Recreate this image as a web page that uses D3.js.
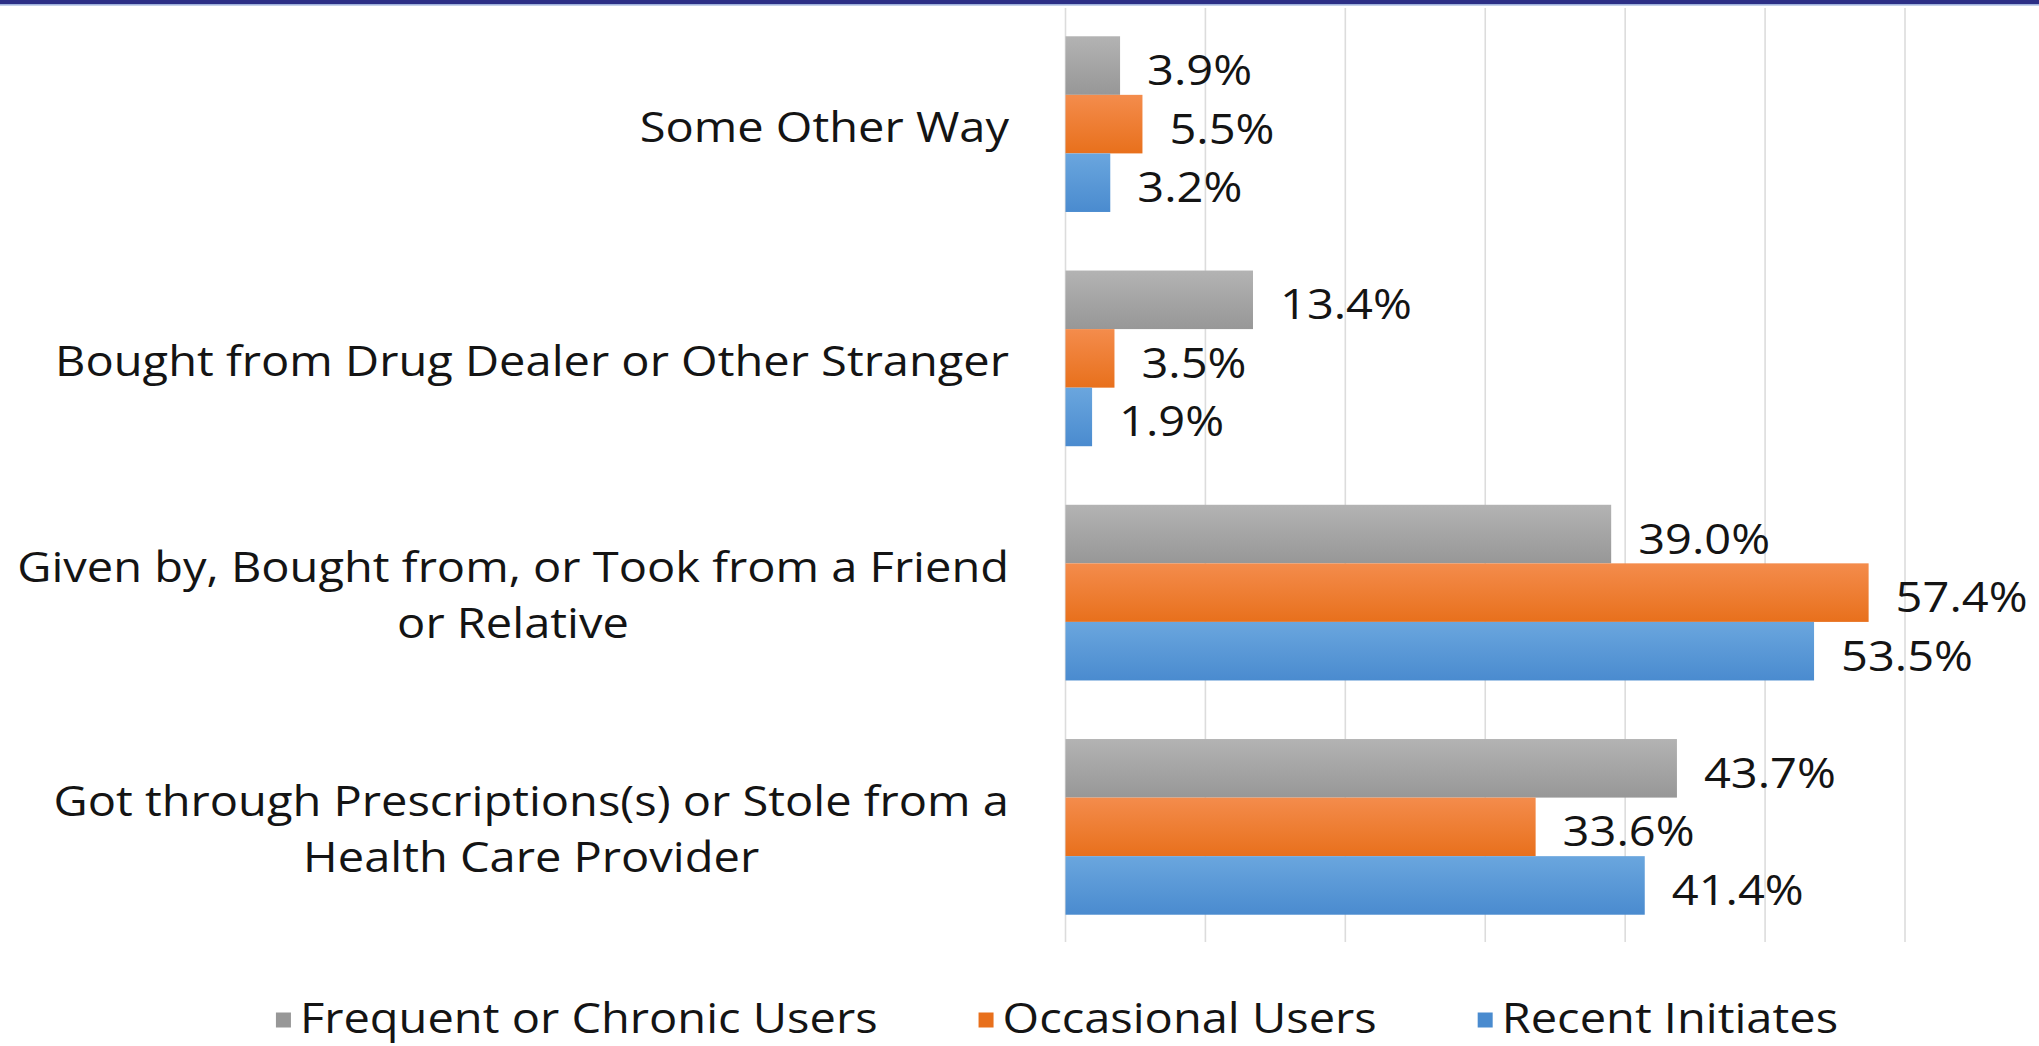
<!DOCTYPE html>
<html>
<head>
<meta charset="utf-8">
<script src="https://cdn.jsdelivr.net/npm/d3@7"></script>
<style>
  html, body { margin: 0; padding: 0; background: #ffffff; }
  svg { display: block; }
  text { font-family: "Open Sans", "Noto Sans", sans-serif; fill: #141414; font-weight: 500; }
</style>
</head>
<body>
<svg id="chart" width="2039" height="1046"></svg>
<script>
// Source of prescription pain relievers, by user group (percent)
const categories = [
  ["Some Other Way"],
  ["Bought from Drug Dealer or Other Stranger"],
  ["Given by, Bought from, or Took from a Friend", "or Relative"],
  ["Got through Prescriptions(s) or Stole from a", "Health Care Provider"]
];
const seriesNames = ["Frequent or Chronic Users", "Occasional Users", "Recent Initiates"];
const frequent   = [3.9, 13.4, 39.0, 43.7];
const occasional = [5.5, 3.5, 57.4, 33.6];
const recent     = [3.2, 1.9, 53.5, 41.4];
const xTicks = [0, 10, 20, 30, 40, 50, 60];

// Layout
const W = 2039, H = 1046;
const plot = { left: 1065.5, right: 1905, top: 7, bottom: 944 };
const gridTop = 8, gridBottom = 942;
const labelRight = 1009;
const stretch = 1.12;           // horizontal stretch applied to all text
const catFont = 42, valFont = 42, legFont = 42, lineGap = 56;

const colors = [
  { top: "#b3b3b3", bottom: "#979797" },
  { top: "#f48c4c", bottom: "#e8701c" },
  { top: "#6aa6de", bottom: "#4a8bcf" }
];

const svg = d3.select("#chart");

// gradients for the bars
const defs = svg.append("defs");
colors.forEach((c, i) => {
  const g = defs.append("linearGradient").attr("id", "grad" + i)
    .attr("x1", 0).attr("y1", 0).attr("x2", 0).attr("y2", 1);
  g.append("stop").attr("offset", "0%").attr("stop-color", c.top);
  g.append("stop").attr("offset", "100%").attr("stop-color", c.bottom);
});

// top border
svg.append("rect").attr("x", 0).attr("y", 0).attr("width", W).attr("height", 4).attr("fill", "#2c2f86");
svg.append("rect").attr("x", 0).attr("y", 4).attr("width", W).attr("height", 1.6).attr("fill", "#9fb2dc");

const x = d3.scaleLinear().domain([0, 60]).range([plot.left, plot.right]);
const y = d3.scaleBand().domain(d3.range(categories.length))
  .range([plot.top, plot.bottom]).paddingInner(0.25).paddingOuter(0.125);
const ySub = d3.scaleBand().domain(d3.range(3)).range([0, y.bandwidth()]);

// gridlines
svg.append("g").selectAll("line").data(xTicks).join("line")
  .attr("x1", d => x(d)).attr("x2", d => x(d))
  .attr("y1", gridTop).attr("y2", gridBottom)
  .attr("stroke", "#dcdcdc").attr("stroke-width", 1.6);

const series = [frequent, occasional, recent];
const rows = [];
series.forEach((vals, s) => vals.forEach((v, c) => rows.push({ s, c, v })));

// bars
svg.append("g").selectAll("rect").data(rows).join("rect")
  .attr("x", x(0))
  .attr("y", d => y(d.c) + ySub(d.s))
  .attr("width", d => x(d.v) - x(0))
  .attr("height", ySub.bandwidth())
  .attr("fill", d => `url(#grad${d.s})`);

// value labels
svg.append("g").selectAll("g").data(rows).join("g")
  .attr("transform", d => `translate(${x(d.v) + 27},${y(d.c) + ySub(d.s) + ySub.bandwidth() / 2 + 3}) scale(${stretch},1)`)
  .append("text")
  .attr("font-size", valFont)
  .attr("dominant-baseline", "central")
  .text(d => d.v.toFixed(1) + "%");

// category labels: block right-aligned, wrapped lines centred under the first
const catG = svg.append("g");
categories.forEach((lines, c) => {
  const cy = y(c) + y.bandwidth() / 2;
  const first = cy - (lines.length - 1) * lineGap / 2 + 1;
  let firstWidth = 0;
  lines.forEach((line, k) => {
    const g = catG.append("g");
    const t = g.append("text")
      .attr("font-size", catFont)
      .attr("text-anchor", k === 0 ? "end" : "middle")
      .attr("dominant-baseline", "central")
      .text(line);
    if (k === 0) firstWidth = t.node().getComputedTextLength() * stretch;
    const tx = k === 0 ? labelRight : labelRight - firstWidth / 2;
    g.attr("transform", `translate(${tx},${first + k * lineGap}) scale(${stretch},1)`);
  });
});

// legend
const legY = 1017, sq = 15, sqGap = 9, itemGap = 101, legCenter = 1057;
const leg = svg.append("g");
const items = seriesNames.map((name, i) => {
  const g = leg.append("g");
  g.append("rect").attr("width", sq).attr("height", sq).attr("y", -sq / 2 + 3)
    .attr("fill", colors[i].bottom);
  const t = g.append("g").attr("transform", `translate(${sq + sqGap},0) scale(${stretch},1)`)
    .append("text").attr("font-size", legFont).attr("dominant-baseline", "central").text(name);
  const w = sq + sqGap + t.node().getComputedTextLength() * stretch;
  return { g, w };
});
const total = d3.sum(items, d => d.w) + itemGap * (items.length - 1);
let cx = legCenter - total / 2;
items.forEach(it => {
  it.g.attr("transform", `translate(${cx},${legY})`);
  cx += it.w + itemGap;
});
</script>
</body>
</html>
